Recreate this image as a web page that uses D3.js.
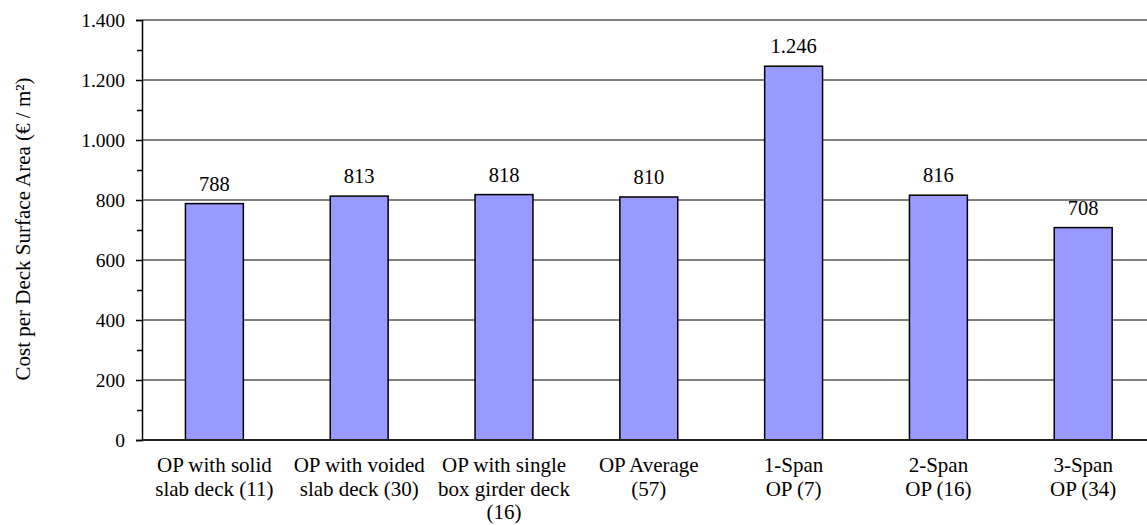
<!DOCTYPE html>
<html><head><meta charset="utf-8">
<script src="https://cdn.jsdelivr.net/npm/d3@7"></script>
<style>body{margin:0;background:#fff;overflow:hidden}</style>
</head><body><svg id="c" width="1147" height="525"></svg>
<script>
const categories = [
  ["OP with solid","slab deck (11)"],
  ["OP with voided","slab deck (30)"],
  ["OP with single","box girder deck","(16)"],
  ["OP Average","(57)"],
  ["1-Span","OP (7)"],
  ["2-Span","OP (16)"],
  ["3-Span","OP (34)"]
];
const values = [788, 813, 818, 810, 1246, 816, 708];
const valueLabels = ["788","813","818","810","1.246","816","708"];
const majorTicks = [0,200,400,600,800,1000,1200,1400];
const tickLabels = ["0","200","400","600","800","1.000","1.200","1.400"];
const minorTicks = [100,300,500,700,900,1100,1300];

const FONT = '"Liberation Serif","Times New Roman",serif';
const svg = d3.select("#c");
const mLeft = 142, mTop = 20, mBottom = 440, step = 144.8;
const x = d3.scaleBand().domain(d3.range(values.length)).range([mLeft, mLeft + step*values.length]).paddingInner(0.6).paddingOuter(0.3);
const y = d3.scaleLinear().domain([0,1400]).range([mBottom, mTop]);

// gridlines
svg.append("g").selectAll("line").data(majorTicks.filter(d=>d>0)).join("line")
  .attr("x1", mLeft).attr("x2", 1147).attr("y1", d=>y(d)).attr("y2", d=>y(d))
  .attr("stroke","#000").attr("stroke-width",1);

// bars
svg.append("g").selectAll("rect").data(values).join("rect")
  .attr("x",(d,i)=>x(i)).attr("width",x.bandwidth())
  .attr("y",d=>y(d)).attr("height",d=>mBottom-y(d))
  .attr("fill","#9999ff").attr("stroke","#000").attr("stroke-width",1.5);

// value labels
svg.append("g").selectAll("text").data(values).join("text")
  .attr("x",(d,i)=>x(i)+x.bandwidth()/2).attr("y",d=>y(d)-13)
  .attr("text-anchor","middle")
  .style("font-family",FONT).style("font-size","20.5px").style("fill","#000")
  .text((d,i)=>valueLabels[i]);

// y axis
const yAxis = d3.axisLeft(y).tickValues(majorTicks).tickFormat((d,i)=>tickLabels[i]).tickSize(6).tickPadding(11);
const ga = svg.append("g").attr("transform",`translate(${mLeft},0)`).call(yAxis);
ga.select(".domain").attr("stroke","#000").attr("stroke-width",1.5);
ga.selectAll(".tick line").attr("stroke","#000").attr("stroke-width",1.5);
ga.selectAll(".tick text").style("font-family",FONT).style("font-size","19.5px").style("fill","#000");
const yMinor = d3.axisLeft(y).tickValues(minorTicks).tickFormat("").tickSize(5);
const gm = svg.append("g").attr("transform",`translate(${mLeft},0)`).call(yMinor);
gm.select(".domain").remove();
gm.selectAll(".tick line").attr("stroke","#000").attr("stroke-width",1.5);

// x axis line
svg.append("line").attr("x1",mLeft).attr("x2",1147).attr("y1",mBottom).attr("y2",mBottom).attr("stroke","#222").attr("stroke-width",2);

// category labels
const cg = svg.append("g").selectAll("text").data(categories).join("text")
  .attr("text-anchor","middle")
  .style("font-family",FONT).style("font-size","21px").style("fill","#000")
  .attr("x",(d,i)=>x(i)+x.bandwidth()/2).attr("y",472);
cg.selectAll("tspan").data(d=>d).join("tspan")
  .attr("x",function(){return this.parentNode.getAttribute("x");})
  .attr("dy",(d,i)=>i===0?0:23.5).text(d=>d);

// y title
svg.append("text").attr("transform","translate(30,229) rotate(-90)")
  .attr("text-anchor","middle")
  .style("font-family",FONT).style("font-size","21px").style("fill","#000")
  .text("Cost per Deck Surface Area (€ / m²)");
</script></body></html>
